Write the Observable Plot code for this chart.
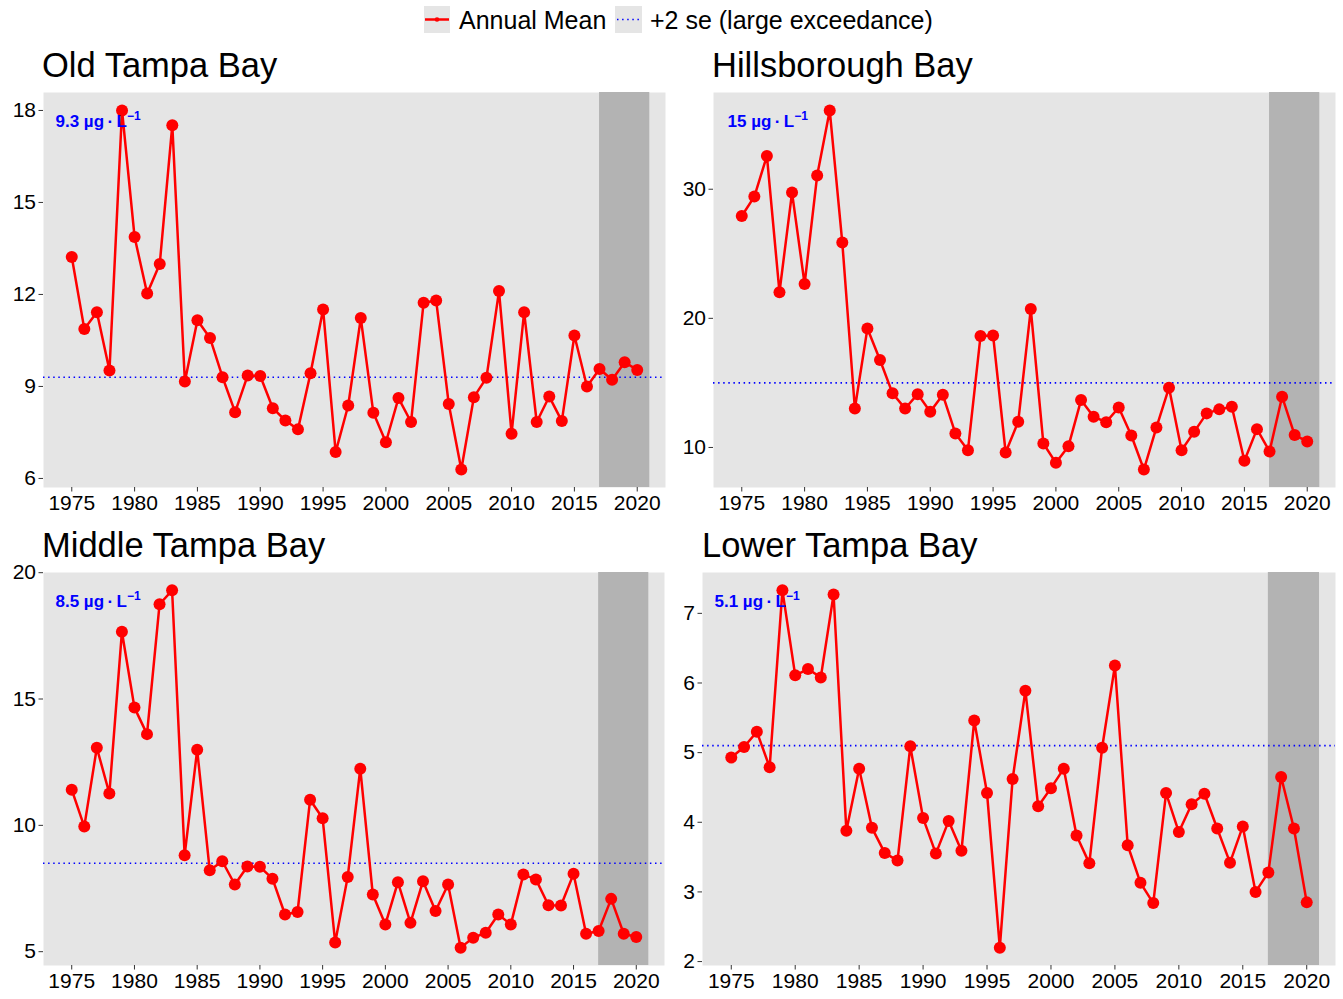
<!DOCTYPE html>
<html><head><meta charset="utf-8">
<script src="https://cdn.jsdelivr.net/npm/d3@7"></script>
<script src="https://cdn.jsdelivr.net/npm/@observablehq/plot@0.6"></script>
<style>
body{margin:0;background:#fff;font-family:"Liberation Sans",Arial,sans-serif;}
#root{position:relative;width:1343px;height:999px;overflow:hidden;background:#fff}
.title{position:absolute;font-size:34.5px;line-height:34.5px;color:#000;white-space:nowrap}
.panel{position:absolute}
.panel svg{overflow:visible}
</style></head><body><div id="root"></div>
<script>
// ---- data ----
const years = [1975,1976,1977,1978,1979,1980,1981,1982,1983,1984,1985,1986,1987,1988,1989,1990,1991,1992,1993,1994,1995,1996,1997,1998,1999,2000,2001,2002,2003,2004,2005,2006,2007,2008,2009,2010,2011,2012,2013,2014,2015,2016,2017,2018,2019,2020];
const oldTampaBay = [13.22,10.87,11.42,9.52,18.0,13.87,12.03,12.99,17.52,9.16, 11.16,10.58,9.30,8.16,9.36,9.34,8.29,7.89,7.60,9.43, 11.51,6.86,8.38,11.23,8.14,7.18,8.62,7.84,11.73,11.80, 8.43,6.29,8.65,9.28,12.11,7.46,11.42,7.84,8.67,7.87, 10.66,9.00,9.57,9.22,9.79,9.54];
const hillsboroughBay = [27.93,29.43,32.58,22.02,29.74,22.66,31.06,36.10,25.87,13.02, 19.22,16.77,14.19,13.02,14.13,12.76,14.08,11.09,9.79,18.63, 18.68,9.61,11.99,20.72,10.31,8.81,10.10,13.67,12.38,11.96, 13.10,10.93,8.29,11.55,14.63,9.79,11.21,12.64,12.95,13.15, 8.97,11.42,9.69,13.93,10.96,10.47];
const middleTampaBay = [11.41,9.95,13.07,11.26,17.66,14.66,13.61,18.75,19.30,8.82, 12.99,8.22,8.58,7.66,8.37,8.36,7.89,6.47,6.57,11.01, 10.28,5.36,7.96,12.24,7.26,6.08,7.75,6.14,7.79,6.61, 7.66,5.16,5.55,5.75,6.47,6.08,8.05,7.86,6.84,6.83, 8.08,5.71,5.82,7.09,5.71,5.58];
const lowerTampaBay = [4.93,5.08,5.30,4.79,7.33,6.11,6.20,6.08,7.27,3.88, 4.77,3.92,3.56,3.45,5.09,4.06,3.55,4.02,3.59,5.46, 4.42,2.20,4.62,5.89,4.23,4.49,4.77,3.81,3.41,5.07, 6.25,3.67,3.13,2.84,4.42,3.86,4.26,4.41,3.91,3.42, 3.94,3.00,3.28,4.65,3.91,2.85];
const bayNames = ["Old Tampa Bay","Hillsborough Bay","Middle Tampa Bay","Lower Tampa Bay"];
const thresholds = [9.3, 15, 8.5, 5.1];
const thresholdLabels = ["9.3 µg\u2009·\u2009L","15 µg\u2009·\u2009L","8.5 µg\u2009·\u2009L","5.1 µg\u2009·\u2009L"];
const yTickSets = [[6,9,12,15,18],[10,20,30],[5,10,15,20],[2,3,4,5,6,7]];
const xTicks = [1975,1980,1985,1990,1995,2000,2005,2010,2015,2020];
const bandYears = [2017, 2021];
const legendLabels = ["Annual Mean","+2 se (large exceedance)"];

const seriesList = [oldTampaBay, hillsboroughBay, middleTampaBay, lowerTampaBay];

// ---- layout ----
const layout = [
  {left:0,   top:82,  height:445, ml:43, mr:7, mb:40, tLeft:42,  tTop:47.5,  ldx:12},
  {left:670, top:82,  height:445, ml:43, mr:7, mb:40, tLeft:712, tTop:47.5,  ldx:14},
  {left:0,   top:562, height:436, ml:43, mr:8, mb:33, tLeft:42,  tTop:527.5, ldx:12},
  {left:670, top:562, height:436, ml:32, mr:7, mb:33, tLeft:702, tTop:527.5, ldx:12}
];

const root = document.getElementById("root");
const NS = "http://www.w3.org/2000/svg";

// legend
const leg = document.createElementNS(NS, "svg");
leg.setAttribute("width", 1343); leg.setAttribute("height", 42);
leg.style.position = "absolute"; leg.style.left = "0px"; leg.style.top = "0px";
leg.innerHTML = `
<rect x="424" y="6" width="26" height="27" fill="#E5E5E5"/>
<line x1="425" x2="449" y1="19.5" y2="19.5" stroke="#FF0000" stroke-width="2.5"/>
<circle cx="437" cy="19.5" r="2.3" fill="#FF0000"/>
<text x="459" y="29" font-family="Liberation Sans, Arial, sans-serif" font-size="25" fill="#000">${legendLabels[0]}</text>
<rect x="615" y="6" width="27" height="27" fill="#E5E5E5"/>
<line x1="617" x2="641" y1="19.5" y2="19.5" stroke="#0000FF" stroke-width="1.6" stroke-dasharray="1.5,3.6"/>
<text x="650" y="29" font-family="Liberation Sans, Arial, sans-serif" font-size="25" fill="#000">${legendLabels[1]}</text>`;
root.appendChild(leg);

seriesList.forEach((values, i) => {
  const L = layout[i];
  const data = years.map((yr, j) => ({year: yr, value: values[j]}));
  const [lo, hi] = d3.extent(values);
  const pad = (hi - lo) * 0.05;
  const svg = Plot.plot({
    width: 672, height: L.height,
    marginLeft: L.ml, marginRight: L.mr, marginTop: 10, marginBottom: L.mb,
    style: {fontFamily: "Liberation Sans, Arial, sans-serif", fontSize: "21px", color: "#000", background: "transparent", overflow: "visible"},
    x: {domain: [1972.75, 2022.25]},
    y: {domain: [lo - pad, hi + pad]},
    marks: [
      Plot.frame({fill: "#E5E5E5", stroke: "none"}),
      Plot.rect([bandYears], {x1: d => d[0], x2: d => d[1], fill: "#B3B3B3"}),
      Plot.ruleY([thresholds[i]], {stroke: "#0000FF", strokeWidth: 1.7, strokeDasharray: "1.5,3.6"}),
      Plot.line(data, {x: "year", y: "value", stroke: "#FF0000", strokeWidth: 2.5}),
      Plot.dot(data, {x: "year", y: "value", r: 6, fill: "#FF0000"}),
      Plot.text([thresholdLabels[i]], {text: d => d, frameAnchor: "top-left", dx: L.ldx, dy: 29, lineAnchor: "middle", textAnchor: "start", fill: "#0000FF", fontWeight: "bold", fontSize: 17}),
      Plot.axisX({ticks: xTicks, tickFormat: d => String(d), tickSize: 4.5, tickPadding: 3, stroke: "#333", fill: "#000", fontSize: 21, label: null}),
      Plot.axisY({ticks: yTickSets[i], tickFormat: d => String(d), tickSize: 4.5, tickPadding: 3, stroke: "#333", fill: "#000", fontSize: 21, label: null})
    ]
  });
  // superscript on the label
  svg.querySelectorAll("text").forEach(t => {
    if (t.textContent.includes("µg")) {
      const sup = document.createElementNS(NS, "tspan");
      sup.setAttribute("dy", "-7");
      sup.setAttribute("font-size", "12");
      sup.textContent = "−1";
      t.appendChild(sup);
    }
  });
  const div = document.createElement("div");
  div.className = "panel";
  div.style.left = L.left + "px"; div.style.top = L.top + "px";
  div.appendChild(svg);
  root.appendChild(div);

  const title = document.createElement("div");
  title.className = "title";
  title.style.left = L.tLeft + "px"; title.style.top = L.tTop + "px";
  title.textContent = bayNames[i];
  root.appendChild(title);
});
</script>
</body></html>
